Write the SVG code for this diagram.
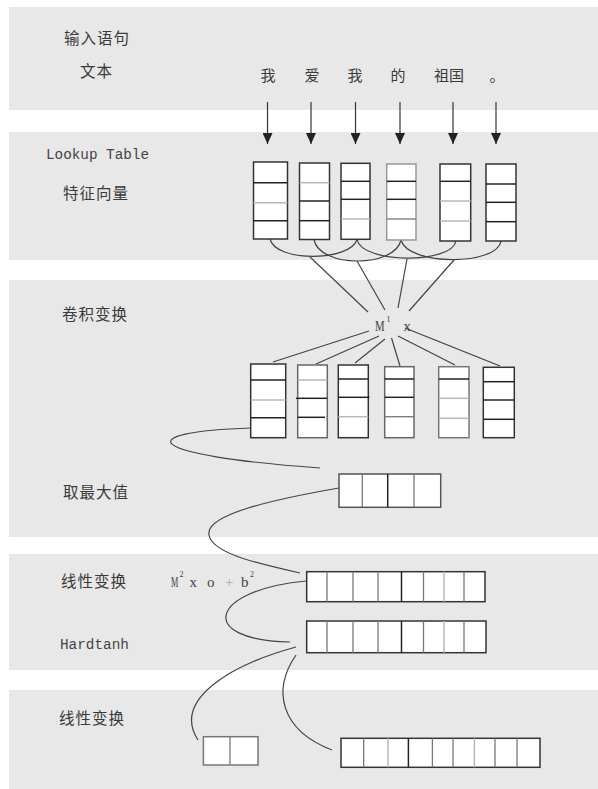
<svg xmlns="http://www.w3.org/2000/svg" width="598" height="789" viewBox="0 0 598 789">
<style>
.band{fill:#e8e8e8}
.cjk{font-family:"Noto Sans CJK SC","Noto Sans",sans-serif;font-size:15.5px;fill:#3a3a3a;letter-spacing:1px}
.word{font-family:"Noto Sans CJK SC","Noto Sans",sans-serif;font-size:15px;fill:#3a3a3a}
.mono{font-family:"Liberation Mono",monospace;font-size:14.5px;fill:#444}
.math{font-family:"Liberation Serif",serif;font-size:15px;fill:#444}
.sup{font-family:"Liberation Serif",serif;font-size:8px;fill:#444}
.box{fill:#fff;stroke:#333;stroke-width:1.5}
.dk{stroke:#222;stroke-width:1.5}
.lt{stroke:#b8b8b8;stroke-width:1.5}
.md{stroke:#777;stroke-width:1.3}
.conn{fill:none;stroke:#444;stroke-width:1.2}
.arrow{fill:none;stroke:#333;stroke-width:1.2}
</style>
<defs>
<marker id="ahd" markerUnits="userSpaceOnUse" markerWidth="10" markerHeight="12" refX="5" refY="12" orient="0" viewBox="0 0 10 12">
<path d="M0,1 L10,1 L5,12 Z" fill="#222"/>
</marker>
</defs>

<!-- bands -->
<rect class="band" x="9" y="7" width="589" height="103"/>
<rect class="band" x="9" y="132" width="589" height="128"/>
<rect class="band" x="9" y="280" width="589" height="257"/>
<rect class="band" x="9" y="554" width="589" height="116"/>
<rect class="band" x="9" y="690" width="589" height="99"/>

<!-- labels -->
<g id="labels">
<text class="cjk" x="64" y="44">输入语句</text>
<text class="cjk" x="80" y="77">文本</text>
<text class="mono" x="46" y="159" textLength="103" lengthAdjust="spacingAndGlyphs">Lookup Table</text>
<text class="cjk" x="63" y="199">特征向量</text>
<text class="cjk" x="62" y="320">卷积变换</text>
<text class="cjk" x="63" y="498">取最大值</text>
<text class="cjk" x="61" y="587">线性变换</text>
<text class="mono" x="60" y="649" textLength="69" lengthAdjust="spacingAndGlyphs">Hardtanh</text>
<text class="cjk" x="59" y="724">线性变换</text>
</g>

<!-- words -->
<g id="words">
<text class="word" x="268" y="81" text-anchor="middle">我</text>
<text class="word" x="312" y="81" text-anchor="middle">爱</text>
<text class="word" x="355" y="81" text-anchor="middle">我</text>
<text class="word" x="398" y="81" text-anchor="middle">的</text>
<text class="word" x="449" y="81" text-anchor="middle">祖国</text>
<text class="word" x="497" y="81" text-anchor="middle">。</text>
</g>

<g id="connectors">
<line class="arrow" x1="267.5" y1="102" x2="267.5" y2="144" marker-end="url(#ahd)"/>
<line class="arrow" x1="311" y1="102" x2="311" y2="144" marker-end="url(#ahd)"/>
<line class="arrow" x1="355.5" y1="102" x2="355.5" y2="144" marker-end="url(#ahd)"/>
<line class="arrow" x1="400" y1="102" x2="400" y2="144" marker-end="url(#ahd)"/>
<line class="arrow" x1="453" y1="102" x2="453" y2="144" marker-end="url(#ahd)"/>
<line class="arrow" x1="496" y1="102" x2="496" y2="144" marker-end="url(#ahd)"/>
<!-- convolution windows -->
<path class="conn" d="M270 239 C275 262,350 262,357 239.5"/>
<path class="conn" d="M314 240 C320 268,395 268,401 240"/>
<path class="conn" d="M357 239.5 C362 264,452 264,456 241"/>
<path class="conn" d="M401 240 C408 266,497 266,501 241"/>
<line class="conn" x1="310" y1="257" x2="368" y2="312"/>
<line class="conn" x1="357" y1="261" x2="385" y2="310"/>
<line class="conn" x1="407" y1="259" x2="398" y2="308"/>
<line class="conn" x1="454" y1="260" x2="409" y2="311"/>
<line class="conn" x1="369" y1="331" x2="273" y2="362"/>
<line class="conn" x1="379" y1="336" x2="316" y2="364"/>
<line class="conn" x1="385" y1="339" x2="355" y2="363"/>
<line class="conn" x1="391.5" y1="338" x2="400" y2="366"/>
<line class="conn" x1="398" y1="336" x2="455" y2="365"/>
<line class="conn" x1="405" y1="328" x2="500" y2="366"/>
<!-- flow curves -->
<path class="conn" d="M251 428 C130 432,140 455,320 468"/>
<path class="conn" d="M339 488 C270 500,205 515,209 535 C212 552,250 562,300 573"/>
<path class="conn" d="M306 581 C210 590,195 640,290 642"/>
<path class="conn" d="M296 647 C230 665,172 700,198 740"/>
<path class="conn" d="M296 655 C272 690,280 730,332 750"/>
</g>

<g id="mx1">
<text class="math" transform="translate(375 331) scale(0.72 1)">M</text>
<text class="sup" x="386.5" y="322">1</text>
<text class="math" x="403.5" y="331">x</text>
</g>
<g id="mx2">
<text class="math" transform="translate(171 587) scale(0.55 1)">M</text>
<text class="sup" x="179.5" y="577">2</text>
<text class="math" x="189.5" y="587">x</text>
<text class="math" x="207" y="587">o</text>
<text class="math" x="225" y="587" style="fill:#aaa">+</text>
<text class="math" x="241" y="587">b</text>
<text class="sup" x="250" y="577">2</text>
</g>

<!-- lookup table vectors -->
<g id="t1"><rect class="box" x="253.5" y="162" width="34" height="77"/><line class="dk" x1="253.5" y1="182.7" x2="287.5" y2="182.7"/><line class="lt" x1="253.5" y1="202.7" x2="287.5" y2="202.7"/><line class="dk" x1="253.5" y1="220.7" x2="287.5" y2="220.7"/></g>
<g id="t2"><rect class="box" x="299.5" y="163" width="30" height="76.5"/><line class="lt" x1="299.5" y1="182.7" x2="329.5" y2="182.7"/><line class="dk" x1="299.5" y1="201" x2="329.5" y2="201"/><line class="dk" x1="299.5" y1="220.7" x2="329.5" y2="220.7"/></g>
<g id="t3"><rect class="box" x="341" y="163.3" width="29" height="76"/><line class="dk" x1="341" y1="181.3" x2="370" y2="181.3"/><line class="dk" x1="341" y1="199.3" x2="370" y2="199.3"/><line class="lt" x1="341" y1="219" x2="370" y2="219"/></g>
<g id="t4"><rect class="box" x="386.7" y="164" width="29.3" height="76" style="stroke:#999"/><line class="dk" x1="386.7" y1="181.3" x2="416" y2="181.3"/><line class="dk" x1="386.7" y1="199.3" x2="416" y2="199.3"/><line class="md" x1="386.7" y1="219" x2="416" y2="219"/></g>
<g id="t5"><rect class="box" x="440" y="164" width="30.7" height="77"/><line class="dk" x1="440" y1="181.3" x2="470.7" y2="181.3"/><line class="lt" x1="440" y1="201" x2="470.7" y2="201"/><line class="lt" x1="440" y1="221" x2="470.7" y2="221"/></g>
<g id="t6"><rect class="box" x="486" y="164" width="30" height="77"/><line class="dk" x1="486" y1="184" x2="516" y2="184"/><line class="dk" x1="486" y1="202.3" x2="516" y2="202.3"/><line class="dk" x1="486" y1="221.7" x2="516" y2="221.7"/></g>

<!-- convolution outputs -->
<g id="c1"><rect class="box" x="250.7" y="364" width="35" height="73.7"/><line class="dk" x1="250.7" y1="380" x2="285.7" y2="380"/><line class="lt" x1="250.7" y1="400" x2="285.7" y2="400"/><line class="dk" x1="250.7" y1="417.7" x2="285.7" y2="417.7"/></g>
<g id="c2"><rect class="box" x="297.7" y="365" width="29.6" height="72.7" style="stroke:#666"/><line class="lt" x1="297.7" y1="380" x2="327.3" y2="380"/><line class="dk" x1="296" y1="398.3" x2="327.3" y2="398.3"/><line class="dk" x1="297.7" y1="417.3" x2="325" y2="417.3"/></g>
<g id="c3"><rect class="box" x="338.3" y="365" width="30" height="72.7"/><line class="dk" x1="338.3" y1="379" x2="368.3" y2="379"/><line class="dk" x1="338.3" y1="397.3" x2="369.5" y2="397.3"/><line class="lt" x1="338.3" y1="416.7" x2="368.3" y2="416.7"/></g>
<g id="c4"><rect class="box" x="384.7" y="366.7" width="29.3" height="71" style="stroke:#666"/><line class="dk" x1="384.7" y1="379" x2="414" y2="379"/><line class="dk" x1="384.7" y1="397.3" x2="414" y2="397.3"/><line class="md" x1="384.7" y1="416.7" x2="414" y2="416.7"/></g>
<g id="c5"><rect class="box" x="438.7" y="366.7" width="30.3" height="71" style="stroke:#777"/><line class="dk" x1="438.7" y1="379" x2="469" y2="379"/><line class="lt" x1="438.7" y1="398.3" x2="469" y2="398.3"/><line class="lt" x1="438.7" y1="418.3" x2="469" y2="418.3"/></g>
<g id="c6"><rect class="box" x="483.3" y="367.3" width="31" height="70.4"/><line class="dk" x1="483.3" y1="381.7" x2="514.3" y2="381.7"/><line class="dk" x1="483.3" y1="400" x2="514.3" y2="400"/><line class="dk" x1="483.3" y1="419.3" x2="514.3" y2="419.3"/></g>

<!-- max pooling -->
<g id="maxpool"><rect class="box" x="339" y="474" width="101.7" height="33.3" style="stroke:#555"/><line class="md" x1="362.3" y1="474" x2="362.3" y2="507.3"/><line class="dk" x1="387.7" y1="474" x2="387.7" y2="507.3"/><line class="md" x1="414" y1="474" x2="414" y2="507.3"/></g>

<!-- linear transform -->
<g id="linear1"><rect class="box" x="306.7" y="571.7" width="178.3" height="30"/>
<line class="md" x1="327" y1="571.7" x2="327" y2="601.7"/><line class="md" x1="353" y1="571.7" x2="353" y2="601.7"/><line class="md" x1="378" y1="571.7" x2="378" y2="601.7"/><line class="dk" x1="401.5" y1="571.7" x2="401.5" y2="601.7"/><line class="md" x1="423.5" y1="571.7" x2="423.5" y2="601.7"/><line class="lt" x1="444" y1="571.7" x2="444" y2="601.7"/><line class="md" x1="464" y1="571.7" x2="464" y2="601.7"/></g>

<!-- hardtanh -->
<g id="hardtanh"><rect class="box" x="306.7" y="621" width="179.3" height="31.7"/>
<line class="md" x1="327" y1="621" x2="327" y2="652.7"/><line class="md" x1="353" y1="621" x2="353" y2="652.7"/><line class="md" x1="378" y1="621" x2="378" y2="652.7"/><line class="dk" x1="401.5" y1="621" x2="401.5" y2="652.7"/><line class="md" x1="423.5" y1="621" x2="423.5" y2="652.7"/><line class="lt" x1="444" y1="621" x2="444" y2="652.7"/><line class="md" x1="464" y1="621" x2="464" y2="652.7"/></g>

<!-- outputs -->
<g id="out2"><rect class="box" x="203.4" y="736.7" width="54.6" height="28.3" style="stroke:#777"/><line class="md" x1="230" y1="736.7" x2="230" y2="765"/></g>
<g id="out9"><rect class="box" x="341" y="738.3" width="199" height="29"/>
<line class="md" x1="363.7" y1="738.3" x2="363.7" y2="767.3"/><line class="lt" x1="388" y1="738.3" x2="388" y2="767.3"/><line class="dk" x1="408.4" y1="738.3" x2="408.4" y2="767.3"/><line class="md" x1="432.4" y1="738.3" x2="432.4" y2="767.3"/><line class="md" x1="453" y1="738.3" x2="453" y2="767.3"/><line class="lt" x1="474.4" y1="738.3" x2="474.4" y2="767.3"/><line class="md" x1="495" y1="738.3" x2="495" y2="767.3"/><line class="md" x1="517" y1="738.3" x2="517" y2="767.3"/></g>
</svg>
